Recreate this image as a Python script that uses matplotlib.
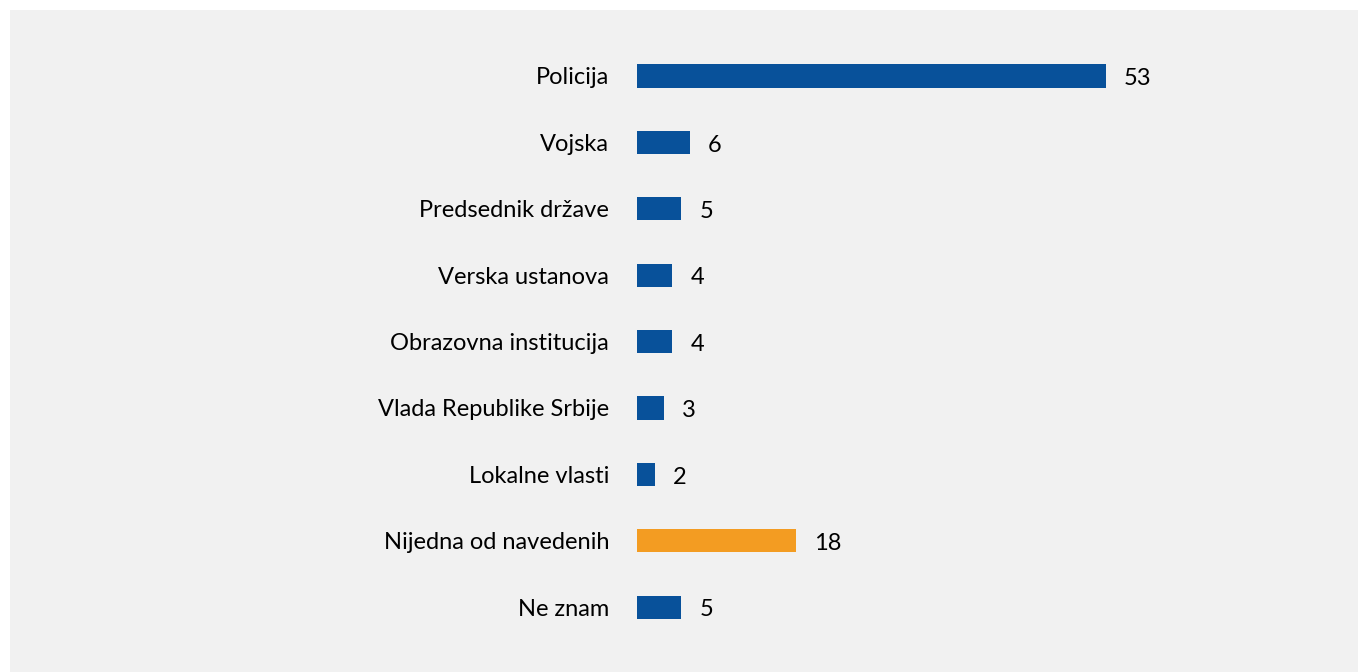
import matplotlib.pyplot as plt
from matplotlib.patches import Rectangle

categories = ['Policija', 'Vojska', 'Predsednik države', 'Verska ustanova',
              'Obrazovna institucija', 'Vlada Republike Srbije', 'Lokalne vlasti',
              'Nijedna od navedenih', 'Ne znam']
values = [53, 6, 5, 4, 4, 3, 2, 18, 5]
highlight = 'Nijedna od navedenih'

BLUE = '#08519a'
ORANGE = '#f39c22'
BG = '#f1f1f1'

W, H = 1358, 672
fig = plt.figure(figsize=(W / 100, H / 100), dpi=100)
fig.patch.set_facecolor('white')
fig.patches.append(Rectangle((10 / W, 0), 1, (H - 10) / H, transform=fig.transFigure,
                             facecolor=BG, edgecolor='none', zorder=-10))

# axes placed in pixels: bars start at x=637, ~8.85 px per unit
left, px_per = 637, 8.85
xmax = 60
top, row = 42.8, 66.4
ax = fig.add_axes([left / W, (H - top - row * len(categories)) / H,
                   xmax * px_per / W, row * len(categories) / H])
ax.set_facecolor('none')

colors = [ORANGE if c == highlight else BLUE for c in categories]
y = range(len(categories))
ax.barh(y, values, height=0.35, color=colors)
ax.set_xlim(0, xmax)
ax.set_ylim(len(categories) - 0.5, -0.5)

font = ['Lato', 'DejaVu Sans']
fs = 17
for i, v in enumerate(values):
    ax.text(v + 18 / px_per, i + 0.04, str(v), va='center', ha='left', fontsize=fs,
            family=font, color='black')

ax.set_yticks(list(y))
ax.set_yticklabels(categories, fontsize=fs, family=font)
ax.tick_params(axis='y', length=0, pad=20)
for lbl in ax.get_yticklabels():
    lbl.set_va('center_baseline')
ax.set_xticks([])
for s in ax.spines.values():
    s.set_visible(False)

fig.savefig('out.png', dpi=100, facecolor=fig.get_facecolor())
